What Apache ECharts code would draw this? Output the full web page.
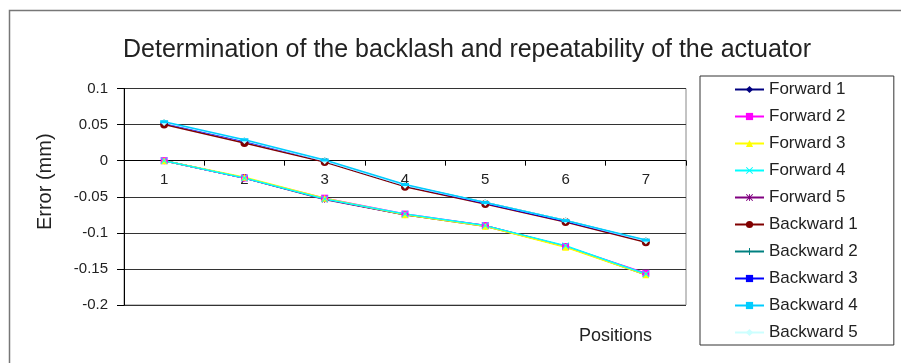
<!DOCTYPE html>
<html>
<head>
<meta charset="utf-8">
<script src="https://cdn.jsdelivr.net/npm/echarts@6/dist/echarts.min.js"></script>
<style>
    html, body { margin: 0; padding: 0; background: #fff; }
    #chart { width: 901px; height: 363px; }
</style>
</head>
<body>
<div id="chart"></div>
<script>
// positions along the actuator
const positions = ['1', '2', '3', '4', '5', '6', '7'];

// forward runs (mm)
const forward1 = [0, -0.024, -0.053, -0.075, -0.090, -0.119, -0.157];
const forward2 = [0, -0.024, -0.052, -0.074, -0.090, -0.119, -0.156];
const forward3 = [0, -0.023, -0.052, -0.075, -0.091, -0.120, -0.158];
const forward4 = [0, -0.024, -0.053, -0.074, -0.090, -0.118, -0.157];
const forward5 = [0, -0.024, -0.054, -0.075, -0.091, -0.119, -0.158];

// backward runs (mm)
const backward1 = [0.050, 0.0245, -0.002, -0.036, -0.060, -0.085, -0.113];
const backward2 = [0.053, 0.028, 0.000, -0.034, -0.058, -0.083, -0.111];
const backward3 = [0.052, 0.027, 0.000, -0.034, -0.059, -0.084, -0.111];
const backward4 = [0.054, 0.029, 0.001, -0.033, -0.058, -0.083, -0.110];
const backward5 = [0.053, 0.028, 0.000, -0.034, -0.058, -0.083, -0.111];

const FONT = 'Liberation Sans';

// plot area (px)
const gridTop = 88.5, gridBottom = 58;
const gridHeight = 363 - gridTop - gridBottom;
const yMin = -0.2, yMax = 0.1;

// marker shapes
const xMark = 'path://M0,1L1,0L5,4L9,0L10,1L6,5L10,9L9,10L5,6L1,10L0,9L4,5Z';
const plusMark = 'path://M4.3,0H5.7V4.3H10V5.7H5.7V10H4.3V5.7H0V4.3H4.3Z';
const starMark = 'path://M0,1L1,0L5,4L9,0L10,1L6,5L10,9L9,10L5,6L1,10L0,9L4,5ZM4.4,0H5.6V10H4.4Z';

function makeSeries(name, data, color, symbol, size) {
    return {
        name: name,
        type: 'line',
        data: data,
        symbol: symbol,
        symbolSize: size,
        showSymbol: true,
        lineStyle: { color: color, width: 1.5 },
        itemStyle: { color: color, borderWidth: 0 },
        emphasis: { disabled: true }
    };
}

const seriesList = [
    makeSeries('Forward 1', forward1, '#000080', 'diamond', 7),
    makeSeries('Forward 5', forward5, '#800080', starMark, 6),
    makeSeries('Forward 2', forward2, '#ff00ff', 'rect', 7),
    makeSeries('Forward 3', forward3, '#ffff00', 'triangle', 7),
    makeSeries('Forward 4', forward4, '#00ffff', xMark, 7),
    makeSeries('Backward 1', backward1, '#800000', 'circle', 8),
    makeSeries('Backward 2', backward2, '#008080', plusMark, 7),
    makeSeries('Backward 3', backward3, '#0000ff', 'rect', [6, 2]),
    makeSeries('Backward 5', backward5, '#ccffff', 'diamond', 7),
    makeSeries('Backward 4', backward4, '#00ccff', 'rect', [8, 3])
];

const legendOrder = ['Forward 1', 'Forward 2', 'Forward 3', 'Forward 4', 'Forward 5',
    'Backward 1', 'Backward 2', 'Backward 3', 'Backward 4', 'Backward 5'];

// x axis sits on the zero line
const zeroOffset = -gridHeight * (0 - yMin) / (yMax - yMin);

const chart = echarts.init(document.getElementById('chart'));
chart.setOption({
    animation: false,
    backgroundColor: '#fff',
    textStyle: { fontFamily: FONT },
    title: {
        text: 'Determination of the backlash and repeatability of the actuator',
        left: 462,
        textAlign: 'center',
        top: 33,
        textStyle: { fontFamily: FONT, fontSize: 25, fontWeight: 'normal', color: '#222' }
    },
    legend: {
        orient: 'vertical',
        left: 700,
        top: 76,
        padding: [5, 36, 4, 34],
        itemGap: 10,
        itemWidth: 29,
        itemHeight: 9,
        itemTextGap: 4,
        borderColor: '#333',
        borderWidth: 1,
        textStyle: { fontFamily: FONT, fontSize: 17, color: '#222' },
        data: legendOrder
    },
    grid: {
        left: 124,
        right: 215,
        top: gridTop,
        bottom: gridBottom,
        show: true,
        borderColor: '#888',
        borderWidth: 1
    },
    xAxis: {
        type: 'category',
        data: positions,
        boundaryGap: true,
        position: 'bottom',
        offset: zeroOffset,
        axisLine: { onZero: false, lineStyle: { color: '#000', width: 1 } },
        axisTick: { show: true, length: 5, lineStyle: { color: '#000' } },
        axisLabel: { fontFamily: FONT, fontSize: 15, color: '#222', margin: 12 },
        splitLine: { show: false }
    },
    yAxis: {
        type: 'value',
        min: yMin,
        max: yMax,
        interval: 0.05,
        name: 'Error (mm)',
        nameLocation: 'middle',
        nameGap: 69,
        nameTextStyle: { fontFamily: FONT, fontSize: 20, color: '#222', padding: [0, 0, 0, 30] },
        axisLine: { show: true, lineStyle: { color: '#000', width: 1 } },
        axisTick: { show: true, length: 7, lineStyle: { color: '#000' } },
        axisLabel: { fontFamily: FONT, fontSize: 15, color: '#222', margin: 16 },
        splitLine: { show: true, lineStyle: { color: '#333', width: 1 } }
    },
    graphic: [
        {
            type: 'rect',
            left: 7,
            top: 8,
            shape: { width: 1000, height: 500 },
            style: { fill: 'none', stroke: '#777', lineWidth: 1.5 },
            silent: true,
            z: -1
        },
        {
            type: 'text',
            left: 579,
            top: 327,
            style: { text: 'Positions', font: '18px "Liberation Sans"', fill: '#222' }
        }
    ],
    series: seriesList
});
</script>
</body>
</html>
